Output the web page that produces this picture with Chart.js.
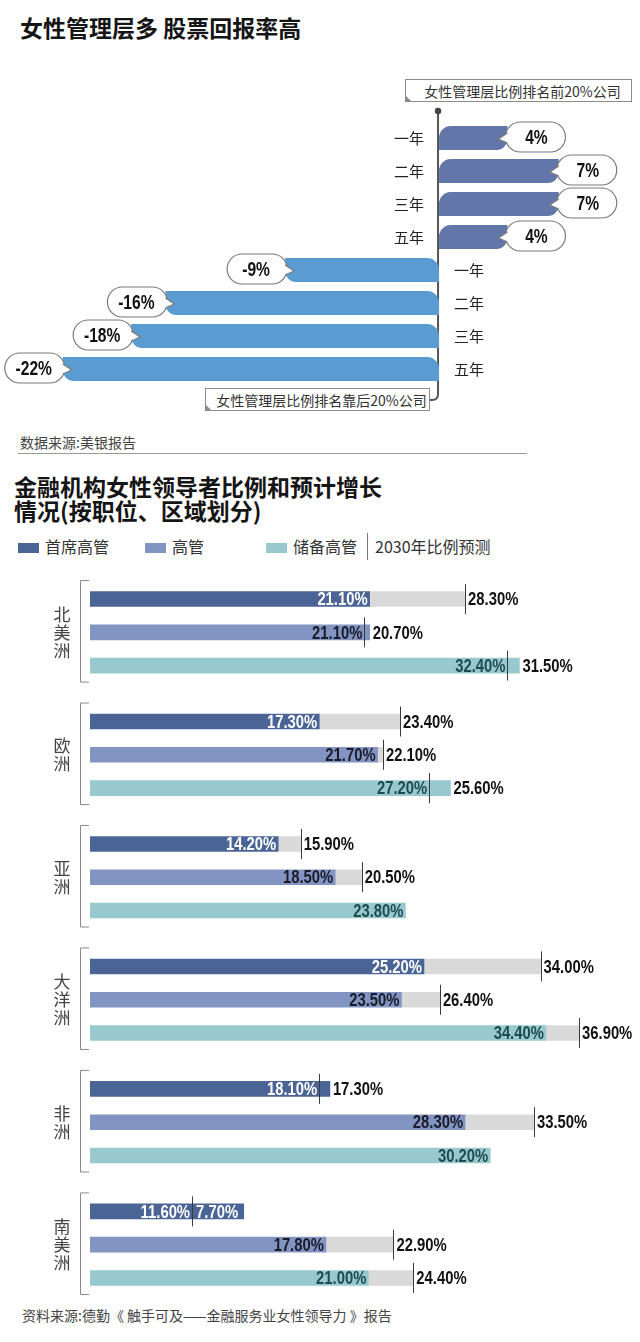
<!DOCTYPE html>
<html>
<head>
<meta charset="utf-8">
<script src="https://cdn.jsdelivr.net/npm/chart.js@4.4.1/dist/chart.umd.min.js"></script>
<style>
body{margin:0;width:640px;height:1342px;background:#fff;position:relative;overflow:hidden;
  font-family:"Noto Sans CJK SC","Noto Sans",sans-serif;color:#222}
.abs{position:absolute;white-space:nowrap}
.title{font-weight:bold;font-size:23px;color:#151515}
.box{border:1px solid #8c8c8c;background:#fff;height:23px;line-height:23px;font-size:14px;color:#333;box-sizing:border-box;text-align:center;padding-left:8px;z-index:3}
.fold{position:absolute;left:-1px;bottom:-1px;width:0;height:0;border-left:7px solid #8a8a8a;border-top:7px solid transparent}
.src{font-size:14px;color:#444}
.leg{font-size:16px;color:#333;top:536px;height:20px;line-height:20px}
.sw{display:inline-block;width:21px;height:10px;vertical-align:middle;margin-right:6px;position:relative;top:-1px}
canvas{position:absolute;left:0}
</style>
</head>
<body>
<div class="abs title" style="left:20px;top:10px">女性管理层多 股票回报率高</div>

<canvas id="returns" width="640" height="370" style="top:60px"></canvas>
<div class="abs box" style="left:405px;top:79px;width:227px">女性管理层比例排名前20%公司<div class="fold"></div></div>
<div class="abs box" style="left:205px;top:388px;width:225px">女性管理层比例排名靠后20%公司<div class="fold"></div></div>

<div class="abs src" style="left:20px;top:432px">数据来源:美银报告</div>
<div class="abs" style="left:18px;top:453px;width:509px;height:1px;background:#9a9a9a"></div>

<div class="abs title" style="left:14px;top:474px;line-height:24px">金融机构女性领导者比例和预计增长<br>情况(按职位、区域划分)</div>

<div class="abs leg" style="left:18px"><span class="sw" style="background:#4b6496"></span>首席高管</div>
<div class="abs leg" style="left:145px"><span class="sw" style="background:#8294c2"></span>高管</div>
<div class="abs leg" style="left:266px"><span class="sw" style="background:#97c9cf"></span>储备高管</div>
<div class="abs" style="left:367px;top:533px;width:1px;height:27px;background:#777"></div>
<div class="abs leg" style="left:375px">2030年比例预测</div>

<canvas id="leaders" width="640" height="730" style="top:570px"></canvas>

<div class="abs src" style="left:22px;top:1305px">资料来源:德勤《 触手可及——金融服务业女性领导力 》报告</div>

<script>
// ---- chart 1: 股票回报率
var periods = ['一年', '二年', '三年', '五年'];
var topReturn = [4, 7, 7, 4];          // 女性管理层比例排名前20%公司
var bottomReturn = [-9, -16, -18, -22]; // 女性管理层比例排名靠后20%公司

// ---- chart 2: 女性领导者比例 (当前 / 2030年预测)
var regions = ['北美洲', '欧洲', '亚洲', '大洋洲', '非洲', '南美洲'];
var roles = ['首席高管', '高管', '储备高管'];
var nowCeo = [21.1, 17.3, 14.2, 25.2, 18.1, 11.6];
var nowExec = [21.1, 21.7, 18.5, 23.5, 28.3, 17.8];
var nowPipe = [32.4, 27.2, 23.8, 34.4, 30.2, 21.0];
var fcCeo = [28.3, 23.4, 15.9, 34.0, 17.3, 7.7];
var fcExec = [20.7, 22.1, 20.5, 26.4, 33.5, 22.9];
var fcPipe = [31.5, 25.6, null, 36.9, null, 24.4];

var NUMFONT = 'bold 19px "Liberation Sans", Arial, sans-serif';
var SQUEEZE = 0.78; // narrow look of the numbers
var CJK = '"Noto Sans CJK SC", sans-serif';

function pct(v) { return v.toFixed(2) + '%'; }

function nulls(n) { var a = []; for (var i = 0; i < n; i++) a.push(null); return a; }

// squeezed text, returns drawn width
function narrowText(ctx, txt, x, y, align) {
    var w = ctx.measureText(txt).width * SQUEEZE;
    var left = align === 'right' ? x - w : (align === 'center' ? x - w / 2 : x);
    ctx.save();
    ctx.translate(left, y);
    ctx.scale(SQUEEZE, 1);
    ctx.textAlign = 'left';
    ctx.fillText(txt, 0, 0);
    ctx.restore();
    return w;
}

// pill shaped callout with a small pointer
function bubble(ctx, left, cy, w, h, side) {
    var r = h / 2, top = cy - r;
    ctx.beginPath();
    ctx.moveTo(left + r, top);
    ctx.lineTo(left + w - r, top);
    ctx.arc(left + w - r, cy, r, -Math.PI / 2, Math.PI / 2);
    ctx.lineTo(left + r, top + h);
    ctx.arc(left + r, cy, r, Math.PI / 2, Math.PI * 1.5);
    ctx.closePath();
    ctx.fillStyle = '#fff';
    ctx.fill();
    ctx.strokeStyle = '#7a7a7a';
    ctx.lineWidth = 1.2;
    ctx.stroke();
    var bx = side < 0 ? left + 2 : left + w - 2;
    var tip = side < 0 ? left - 7 : left + w + 7;
    ctx.beginPath();
    ctx.moveTo(bx, cy - 4);
    ctx.lineTo(tip, cy + 2);
    ctx.lineTo(bx, cy + 6);
    ctx.closePath();
    ctx.fill();
    ctx.beginPath();
    ctx.moveTo(bx, cy - 4);
    ctx.lineTo(tip, cy + 2);
    ctx.lineTo(bx, cy + 6);
    ctx.stroke();
}

var returnsDecor = {
    id: 'returnsDecor',
    beforeDatasetsDraw: function (chart) {
        var ctx = chart.ctx, x0 = chart.scales.x.getPixelForValue(0) - 1;
        var ys = chart.scales.y;
        ctx.save();
        // axis line with the dot on top and the hook into the lower box
        ctx.strokeStyle = '#555';
        ctx.lineWidth = 2;
        ctx.beginPath();
        ctx.moveTo(x0, 51);
        ctx.lineTo(x0, 334);
        ctx.quadraticCurveTo(x0, 340, x0 - 6, 340);
        ctx.lineTo(x0 - 10, 340);
        ctx.stroke();
        ctx.fillStyle = '#444';
        ctx.beginPath();
        ctx.arc(x0, 51, 3.2, 0, Math.PI * 2);
        ctx.fill();
        // period labels
        ctx.font = '15px ' + CJK;
        ctx.fillStyle = '#222';
        ctx.textBaseline = 'middle';
        for (var i = 0; i < 8; i++) {
            var y = ys.getPixelForValue(i);
            if (i < 4) { ctx.textAlign = 'right'; ctx.fillText(periods[i], x0 - 14, y); }
            else { ctx.textAlign = 'left'; ctx.fillText(periods[i - 4], x0 + 16, y); }
        }
        ctx.restore();
    },
    afterDatasetsDraw: function (chart) {
        var ctx = chart.ctx;
        ctx.save();
        chart.data.datasets.forEach(function (ds, di) {
            var meta = chart.getDatasetMeta(di);
            meta.data.forEach(function (el, i) {
                var v = ds.data[i];
                if (v === null) return;
                var w = 60, h = 30, cy = el.y - 1;
                var left = v > 0 ? el.x - 2 : el.x + 2 - w;
                bubble(ctx, left, cy, w, h, v > 0 ? -1 : 1);
                ctx.fillStyle = '#111';
                ctx.font = 'bold 20px "Liberation Sans", Arial, sans-serif';
                ctx.textBaseline = 'middle';
                narrowText(ctx, v + '%', left + w / 2 + (v > 0 ? 1 : -1), cy + 1, 'center');
            });
        });
        ctx.restore();
    }
};

new Chart(document.getElementById('returns'), {
    type: 'bar',
    data: {
        labels: periods.concat(periods),
        datasets: [{
            data: topReturn.concat(nulls(4)),
            backgroundColor: '#6276a9',
            borderRadius: { topLeft: 13, bottomRight: 11 },
            borderSkipped: false,
            grouped: false,
            categoryPercentage: 1,
            barPercentage: 0.72
        }, {
            data: nulls(4).concat(bottomReturn),
            backgroundColor: '#5a9bd1',
            borderRadius: { topRight: 13, bottomLeft: 11 },
            borderSkipped: false,
            grouped: false,
            categoryPercentage: 1,
            barPercentage: 0.72
        }]
    },
    options: {
        indexAxis: 'y',
        responsive: false,
        animation: false,
        layout: { padding: { left: 0, right: 0, top: 61.5, bottom: 44.5 } },
        scales: {
            x: { type: 'linear', min: -25.67, max: 11.75, display: false },
            y: { display: false }
        },
        plugins: { legend: { display: false }, tooltip: { enabled: false } }
    },
    plugins: [returnsDecor]
});

// ---- chart 2
var STEP = 3.68; // rows per region block, gap included
var nowVals = [nowCeo, nowExec, nowPipe];
var fcVals = [fcCeo, fcExec, fcPipe];
var roleColors = ['#4b6496', '#8294c2', '#97c9cf'];
var nowLabelColors = ['#ffffff', '#1b1b2a', '#1e4b50'];

function rowPos(g, r) { return g * STEP + r; }

var leaderSets = [];
var gapData = [];
regions.forEach(function (name, g) {
    for (var r = 0; r < 3; r++) {
        var a = nowVals[r][g], b = fcVals[r][g];
        if (b !== null && b > a) gapData.push({ y: rowPos(g, r), x: [a, b] });
    }
});
leaderSets.push({ label: '2030年比例预测', data: gapData, backgroundColor: '#d9d9d9', barThickness: 15, grouped: false, order: 5 });
roles.forEach(function (role, r) {
    leaderSets.push({
        label: role,
        data: regions.map(function (n, g) { return { y: rowPos(g, r), x: nowVals[r][g] }; }),
        backgroundColor: roleColors[r],
        barThickness: 15,
        grouped: false,
        order: 1
    });
});

var leadersDecor = {
    id: 'leadersDecor',
    afterDatasetsDraw: function (chart) {
        var ctx = chart.ctx, xs = chart.scales.x, ys = chart.scales.y;
        ctx.save();
        // brackets and region names
        regions.forEach(function (name, g) {
            var t = ys.getPixelForValue(rowPos(g, 0)) - 19, b = ys.getPixelForValue(rowPos(g, 2)) + 16;
            ctx.strokeStyle = '#8a8a8a';
            ctx.lineWidth = 1;
            ctx.beginPath();
            ctx.moveTo(89, t + 0.5);
            ctx.lineTo(80.5, t + 0.5);
            ctx.lineTo(80.5, b + 0.5);
            ctx.lineTo(89, b + 0.5);
            ctx.stroke();
            var mid = ys.getPixelForValue(rowPos(g, 1));
            ctx.fillStyle = '#444';
            ctx.font = '17px ' + CJK;
            ctx.textAlign = 'center';
            ctx.textBaseline = 'middle';
            var n = name.length, stepY = 18;
            for (var k = 0; k < n; k++) {
                ctx.fillText(name[k], 62, mid + (k - (n - 1) / 2) * stepY);
            }
        });
        // markers and labels
        ctx.font = NUMFONT;
        ctx.textBaseline = 'middle';
        for (var r = 0; r < 3; r++) {
            var meta = chart.getDatasetMeta(r + 1);
            meta.data.forEach(function (el, g) {
                var a = nowVals[r][g], b = fcVals[r][g];
                var end = el.x, y = el.y + 1;
                var mk = b === null ? null : xs.getPixelForValue(b);
                if (mk !== null) {
                    ctx.strokeStyle = '#3a3a3a';
                    ctx.lineWidth = 1;
                    ctx.beginPath();
                    ctx.moveTo(Math.round(mk) + 0.5, el.y - 15);
                    ctx.lineTo(Math.round(mk) + 0.5, el.y + 15);
                    ctx.stroke();
                }
                ctx.fillStyle = nowLabelColors[r];
                narrowText(ctx, pct(a), (mk !== null && mk < end ? mk : end) - 2, y, 'right');
                if (mk !== null) {
                    var txt = pct(b), tw = ctx.measureText(txt).width * SQUEEZE;
                    if (mk < end && end - mk - 6 >= tw) {
                        ctx.fillStyle = '#ffffff';
                        narrowText(ctx, txt, mk + 4, y, 'left');
                    } else {
                        ctx.fillStyle = '#111';
                        narrowText(ctx, txt, Math.max(mk, end) + 3, y, 'left');
                    }
                }
            });
        }
        ctx.restore();
    }
};

new Chart(document.getElementById('leaders'), {
    type: 'bar',
    data: { datasets: leaderSets },
    options: {
        indexAxis: 'y',
        responsive: false,
        animation: false,
        layout: { padding: { left: 90, right: 0, top: 12.4, bottom: 5.4 } },
        scales: {
            x: { type: 'linear', min: 0, max: 41.5, display: false },
            y: { type: 'linear', min: -0.5, max: rowPos(5, 2) + 0.5, reverse: true, offset: false, display: false }
        },
        plugins: { legend: { display: false }, tooltip: { enabled: false } }
    },
    plugins: [leadersDecor]
});
</script>
</body>
</html>
